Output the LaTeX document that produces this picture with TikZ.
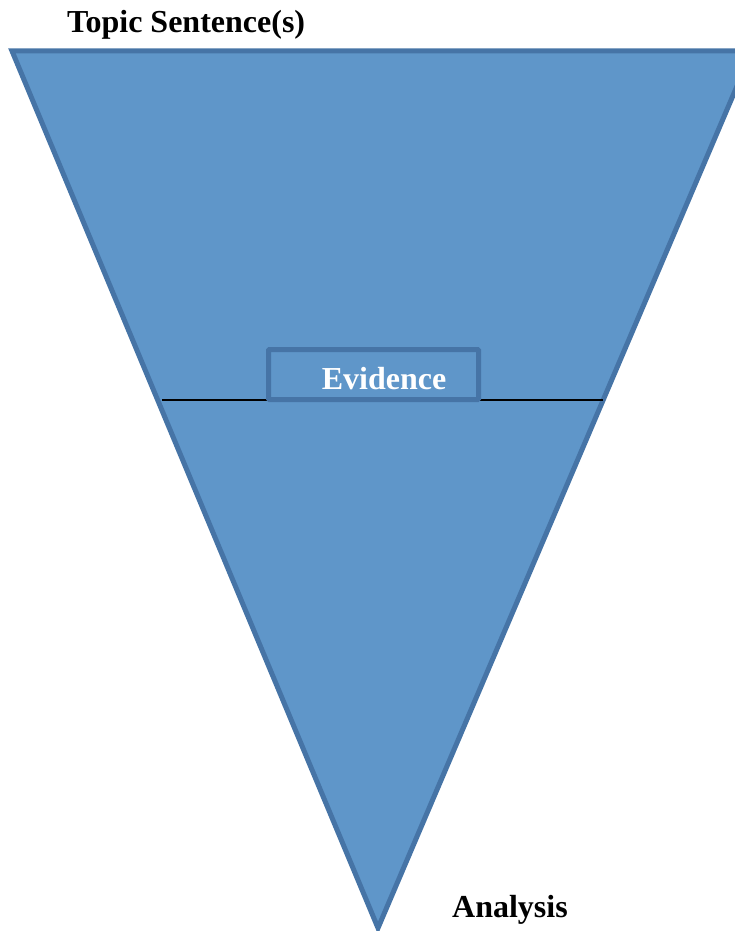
\documentclass[tikz,border=0pt]{standalone}
\usepackage{fontspec}
\setmainfont{Liberation Serif}
\definecolor{funnelfill}{RGB}{95,150,201}
\definecolor{funnelline}{RGB}{70,116,166}
\begin{document}
\begin{tikzpicture}[x=1pt,y=-1pt,
  lbl/.style={font=\fontsize{32}{36}\selectfont\bfseries, inner sep=0pt, anchor=base west},
  boxstyle/.style={draw=funnelline, line width=5pt, fill=funnelfill, minimum width=210pt, minimum height=50pt, inner sep=0pt, rounded corners=1pt}]
\useasboundingbox (0,0) rectangle (735,931);
\begin{scope}
\clip (0,0) rectangle (735,931);
\coordinate (tl) at (12,51);
\coordinate (tr) at (752,51);
\coordinate (ap) at (378,928);
\draw[funnelline, line width=5pt, fill=funnelfill, line join=miter] (tl) -- (tr) -- (ap) -- cycle;
\end{scope}
\coordinate (ll) at (162,400);
\coordinate (lr) at (603,400);
\draw[black, line width=1.5pt] (ll) -- (lr);
\node[boxstyle] (ev) at (373.5,374.5) {};
\node[lbl, text=white, anchor=base] (evt) at (384,389) {Evidence};
\node[lbl] (topic) at (67,33) {Topic Sentence(s)};
\node[lbl] (analysis) at (452,917) {Analysis};
\end{tikzpicture}
\end{document}
